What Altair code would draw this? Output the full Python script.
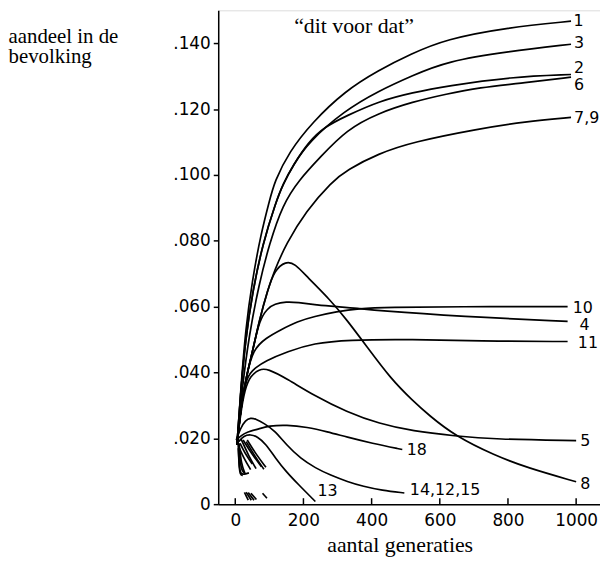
import altair as alt
import pandas as pd

# ---------------- data ----------------
x_ticks = [0, 200, 400, 600, 800, 1000]
y_ticks = [0, 0.02, 0.04, 0.06, 0.08, 0.10, 0.12, 0.14]

c1_x = [5, 17, 30, 50, 75, 100, 115, 158, 226, 322, 420, 515, 616, 800, 985]
c1_y = [0.018, 0.036, 0.053, 0.068, 0.082, 0.092, 0.098, 0.107, 0.116, 0.1255, 0.1318, 0.1367, 0.1412, 0.1448, 0.1467]

c3_x = [5, 15, 30, 50, 80, 120, 139, 170, 215, 320, 420, 520, 620, 800, 985]
c3_y = [0.018, 0.033, 0.050, 0.064, 0.079, 0.092, 0.097, 0.103, 0.110, 0.1195, 0.1255, 0.1302, 0.1345, 0.1375, 0.1397]

c2_x = [5, 15, 30, 50, 80, 120, 139, 170, 215, 260, 327, 424, 520, 620, 810, 985]
c2_y = [0.018, 0.033, 0.050, 0.064, 0.079, 0.092, 0.097, 0.103, 0.110, 0.1145, 0.118, 0.1225, 0.125, 0.127, 0.1298, 0.1305]

c6_x = [5, 20, 40, 70, 100, 139, 187, 250, 327, 420, 520, 620, 713, 850, 985]
c6_y = [0.018, 0.035, 0.051, 0.067, 0.079, 0.091, 0.0985, 0.1055, 0.1138, 0.1188, 0.1222, 0.1246, 0.1265, 0.128, 0.1297]

c79_x = [5, 17, 33, 52, 71, 95, 115, 149, 207, 284, 327, 420, 520, 713, 850, 985]
c79_y = [0.018, 0.030, 0.039, 0.047, 0.056, 0.065, 0.071, 0.079, 0.089, 0.098, 0.1015, 0.1065, 0.110, 0.114, 0.1162, 0.1175]

c8_x = [5, 17, 33, 52, 71, 95, 115, 148, 175, 211, 279, 327, 385, 457, 520, 568, 645, 761, 858, 1000]
c8_y = [0.018, 0.030, 0.039, 0.047, 0.056, 0.065, 0.071, 0.0738, 0.0731, 0.069, 0.062, 0.056, 0.048, 0.038, 0.0315, 0.027, 0.0207, 0.0148, 0.011, 0.0068]

c4_x = [5, 17, 33, 52, 71, 95, 115, 150, 182, 240, 298, 360, 414, 665, 975]
c4_y = [0.018, 0.030, 0.039, 0.047, 0.056, 0.0595, 0.0608, 0.0615, 0.0613, 0.0605, 0.0600, 0.0595, 0.0588, 0.0570, 0.0555]

c10_x = [5, 17, 33, 52, 90, 134, 182, 231, 298, 360, 450, 650, 975]
c10_y = [0.018, 0.030, 0.039, 0.047, 0.0505, 0.053, 0.0555, 0.057, 0.0585, 0.0594, 0.0598, 0.0600, 0.0600]

c11_x = [5, 17, 33, 60, 86, 153, 231, 327, 520, 713, 975]
c11_y = [0.018, 0.030, 0.039, 0.0415, 0.0434, 0.0464, 0.0489, 0.0499, 0.0501, 0.0495, 0.0494]

c5_x = [5, 15, 28, 45, 70, 95, 153, 231, 327, 423, 520, 645, 761, 1000]
c5_y = [0.018, 0.027, 0.035, 0.039, 0.041, 0.0412, 0.038, 0.033, 0.028, 0.0244, 0.0222, 0.0207, 0.0197, 0.0193]

c18_x = [3, 20, 32, 67, 99, 150, 211, 270, 327, 400, 490]
c18_y = [0.0195, 0.021, 0.0218, 0.0228, 0.0238, 0.0241, 0.0234, 0.022, 0.0204, 0.0185, 0.0166]

c14_x = [3, 15, 30, 45, 60, 85, 115, 150, 192, 235, 279, 330, 375, 430, 496]
c14_y = [0.0195, 0.023, 0.0255, 0.0262, 0.0259, 0.0245, 0.0224, 0.018, 0.0138, 0.011, 0.0088, 0.0068, 0.0054, 0.0042, 0.0034]

c13_x = [10, 25, 45, 65, 90, 119, 150, 182, 235]
c13_y = [0.019, 0.0208, 0.0212, 0.0205, 0.0183, 0.0138, 0.0098, 0.0063, 0.0008]

# short unlabeled strokes near the origin
f1_x = [8, 10, 12, 16, 25, 40]
f1_y = [0.0195, 0.015, 0.011, 0.0092, 0.0090, 0.0095]
f2_x = [10, 14, 20, 30]
f2_y = [0.018, 0.013, 0.0098, 0.0093]
f3_x = [17, 40, 61]
f3_y = [0.0198, 0.0145, 0.0108]
f4_x = [23, 50, 77]
f4_y = [0.0195, 0.0150, 0.0114]
f5_x = [32, 58, 84]
f5_y = [0.0190, 0.0145, 0.0106]
f6_x = [35, 62, 90]
f6_y = [0.0195, 0.0150, 0.0112]
f7_x = [12, 25, 45]
f7_y = [0.017, 0.014, 0.0105]
f8_x = [14, 28, 50]
f8_y = [0.0185, 0.0155, 0.0122]
f9_x = [9, 11, 14, 22]
f9_y = [0.017, 0.012, 0.0088, 0.0087]
f10_x = [11, 18, 28]
f10_y = [0.0185, 0.012, 0.0095]

b1_x = [27, 38]
b1_y = [0.0036, 0.0012]
b2_x = [32, 47]
b2_y = [0.0036, 0.0012]
b3_x = [38, 55]
b3_y = [0.0035, 0.0012]
b4_x = [46, 62]
b4_y = [0.0033, 0.0014]
b5_x = [80, 93]
b5_y = [0.0033, 0.0018]

label_text = ["1", "3", "2", "6", "7,9", "10", "4", "11", "5", "8", "18", "14,12,15", "13"]
label_x = [992, 994, 994, 994, 994, 990, 1010, 1005, 1012, 1012, 503, 512, 241]
label_y = [0.1468, 0.1402, 0.1326, 0.1274, 0.1173, 0.0597, 0.0544, 0.0490, 0.0192, 0.0060, 0.0164, 0.0044, 0.0041]

title_text = "\u201cdit voor dat\u201d"
y_title = ["aandeel in de", "bevolking"]
x_title = "aantal generaties"

# ---------------- build tables ----------------
curves = [
    ("1", c1_x, c1_y), ("3", c3_x, c3_y), ("2", c2_x, c2_y), ("6", c6_x, c6_y),
    ("7,9", c79_x, c79_y), ("8", c8_x, c8_y), ("4", c4_x, c4_y), ("10", c10_x, c10_y),
    ("11", c11_x, c11_y), ("5", c5_x, c5_y), ("18", c18_x, c18_y), ("14", c14_x, c14_y),
    ("13", c13_x, c13_y),
    ("f1", f1_x, f1_y), ("f2", f2_x, f2_y), ("f3", f3_x, f3_y), ("f4", f4_x, f4_y),
    ("f5", f5_x, f5_y), ("f6", f6_x, f6_y), ("f7", f7_x, f7_y), ("f8", f8_x, f8_y),
    ("f9", f9_x, f9_y), ("f10", f10_x, f10_y),
    ("b1", b1_x, b1_y), ("b2", b2_x, b2_y), ("b3", b3_x, b3_y), ("b4", b4_x, b4_y),
    ("b5", b5_x, b5_y),
]
rows = []
for name, xs, ys in curves:
    for xv, yv in zip(xs, ys):
        rows.append({"series": name, "gen": xv, "share": yv})
df = pd.DataFrame(rows)
labels_df = pd.DataFrame({"text": label_text, "gen": label_x, "share": label_y})
ticks_df = pd.DataFrame({"gen": x_ticks})
title_df = pd.DataFrame({"t": [title_text]})

W, H = 385, 498
xscale = alt.Scale(domain=[-50, 1070], nice=False, zero=False)
yscale = alt.Scale(domain=[0, 0.15], nice=False)

lines = alt.Chart(df).mark_line(
    color="black", strokeWidth=1.7, interpolate="basis"
).encode(
    x=alt.X("gen:Q", scale=xscale, axis=alt.Axis(
        values=x_ticks, ticks=False, grid=False, labelPadding=9, format="d",
        labelFont="DejaVu Sans", labelFontSize=17, labelColor="black",
        domainColor="black", domainWidth=1.5,
        title=x_title, titleFont="Liberation Serif", titleFontSize=22,
        titleFontWeight="normal", titleColor="black",
        titleAlign="center", titleBaseline="alphabetic", titleX=183, titleY=48)),
    y=alt.Y("share:Q", scale=yscale, axis=alt.Axis(
        values=y_ticks, grid=False, tickSize=5, tickColor="black", tickWidth=1.5,
        labelPadding=3, labelFont="DejaVu Sans", labelFontSize=17, labelColor="black",
        labelExpr="datum.value == 0 ? '0' : replace(format(datum.value, '.3f'), '0.', '.')",
        domainColor="black", domainWidth=1.5,
        title=y_title, titleFont="Liberation Serif", titleFontSize=21,
        titleFontWeight="normal", titleColor="black", titleAngle=0,
        titleAlign="left", titleBaseline="alphabetic", titleX=-212, titleY=32,
        titleLineHeight=21)),
    detail="series:N",
)

labels = alt.Chart(labels_df).mark_text(
    align="left", baseline="middle", font="DejaVu Sans", fontSize=16, color="black"
).encode(x=alt.X("gen:Q", scale=xscale), y=alt.Y("share:Q", scale=yscale), text="text:N")

xticks = alt.Chart(ticks_df).mark_rule(color="black", strokeWidth=1.5).encode(
    x=alt.X("gen:Q", scale=xscale), y=alt.value(H), y2=alt.value(H - 6)
)

title = alt.Chart(title_df).mark_text(
    align="center", baseline="alphabetic", font="Liberation Serif", fontSize=22, color="black"
).encode(x=alt.value(137), y=alt.value(23), text="t:N")

chart = alt.layer(lines, labels, xticks, title).properties(
    width=W, height=H,
    autosize=alt.AutoSizeParams(type="none"),
    padding={"left": 212, "top": 0, "right": 0, "bottom": 58},
).configure_view(stroke=None).configure(background="white")

chart.save("out.html", embed_options={"renderer": "svg", "actions": False})
